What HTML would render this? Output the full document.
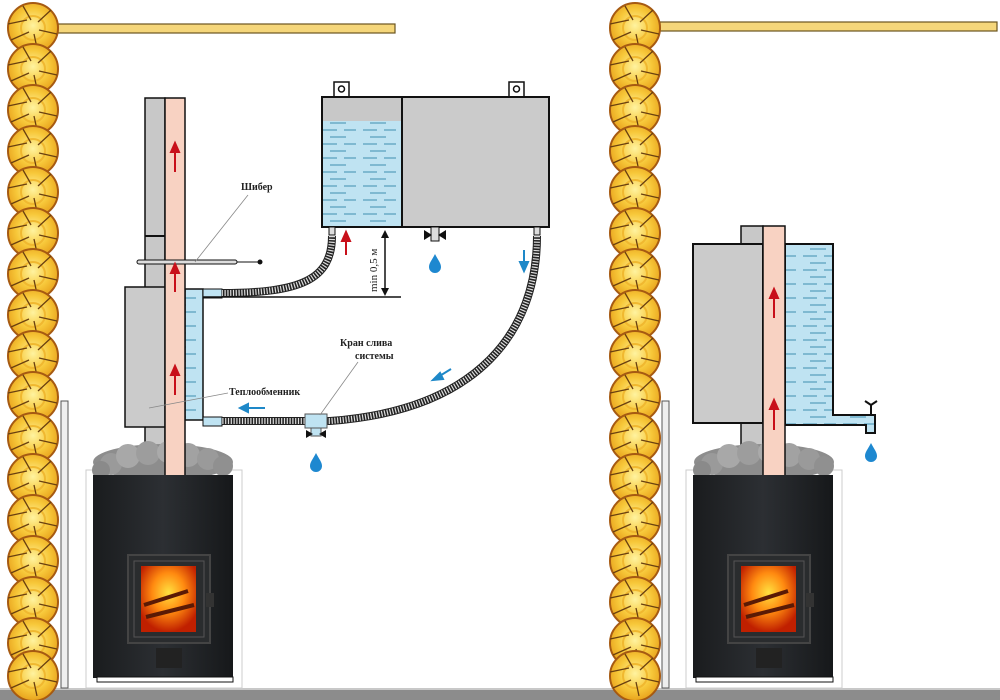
<!DOCTYPE html>
<html><head><meta charset="utf-8"><style>
html,body{margin:0;padding:0;background:#fff;width:1000px;height:700px;overflow:hidden}
svg{display:block}
text{font-family:"Liberation Serif",serif;font-weight:bold;font-size:10px;fill:#222}
</style></head><body>
<svg width="1000" height="700" viewBox="0 0 1000 700" xmlns="http://www.w3.org/2000/svg">
<defs>
 <radialGradient id="lg" cx="50%" cy="45%" r="55%"><stop offset="0" stop-color="#fff3a0"/><stop offset=".6" stop-color="#f7c83a"/><stop offset="1" stop-color="#e8a21c"/></radialGradient>
 <g id="log">
  <circle r="25" fill="url(#lg)" stroke="#a65a12" stroke-width="2"/>
  <circle r="12" fill="none" stroke="#f0b830" stroke-width="2"/>
  <path d="M-25 -4 L-6 -8 M24 6 L6 2 M-22 12 L-4 4 M18 -18 L5 -6 M-10 -22 L-2 -8 M4 20 L1 6" stroke="#6a4010" stroke-width="1.3"/>
 </g>
 <g id="logs">
  <use href="#log" y="28"/><use href="#log" y="69"/><use href="#log" y="110"/><use href="#log" y="151"/><use href="#log" y="192"/><use href="#log" y="233"/><use href="#log" y="274"/><use href="#log" y="315"/><use href="#log" y="356"/><use href="#log" y="397"/><use href="#log" y="438"/><use href="#log" y="479"/><use href="#log" y="520"/><use href="#log" y="561"/><use href="#log" y="602"/><use href="#log" y="643"/><use href="#log" y="676"/>
 </g>
 <pattern id="water" width="40" height="14" patternUnits="userSpaceOnUse">
  <rect width="40" height="14" fill="#bfe3f2"/>
  <path d="M3 4h14M24 4h12M10 11h16" stroke="#3f8fb0" stroke-width="1"/>
 </pattern>
 <radialGradient id="fire" cx="50%" cy="40%" r="60%"><stop offset="0" stop-color="#ffe040"/><stop offset=".5" stop-color="#ff8a10"/><stop offset="1" stop-color="#c02000"/></radialGradient>
 <linearGradient id="stove" x1="0" x2="1"><stop offset="0" stop-color="#1a1c1e"/><stop offset=".5" stop-color="#2c2f33"/><stop offset="1" stop-color="#16181a"/></linearGradient>
 <g id="stoneset">
  <ellipse cx="0" cy="0" rx="70" ry="18" fill="#8d8d8d"/>
  <circle cx="-52" cy="2" r="11" fill="#9a9a9a"/><circle cx="-35" cy="-6" r="12" fill="#a8a8a8"/><circle cx="-15" cy="-9" r="12" fill="#9d9d9d"/><circle cx="5" cy="-10" r="11" fill="#aaa"/><circle cx="25" cy="-7" r="12" fill="#a2a2a2"/><circle cx="45" cy="-3" r="11" fill="#9a9a9a"/><circle cx="60" cy="4" r="10" fill="#909090"/><circle cx="-62" cy="8" r="9" fill="#8a8a8a"/>
 </g>
 <g id="door">
  <rect x="0" y="0" width="82" height="88" fill="#2a2c2e" stroke="#444" stroke-width="2"/>
  <rect x="6" y="6" width="70" height="76" fill="none" stroke="#555" stroke-width="1"/>
  <rect x="13" y="11" width="55" height="66" fill="url(#fire)"/>
  <path d="M16 50 L60 36 M18 62 L66 50" stroke="#5a1a05" stroke-width="4"/>
  <rect x="78" y="38" width="8" height="14" fill="#333"/>
 </g>
 <g id="dropB"><path d="M0 -9 C3 -3 6 0 6 4 A6 6 0 0 1 -6 4 C-6 0 -3 -3 0 -9Z" fill="#1e88d0"/></g>
</defs>

<!-- floor -->
<rect x="0" y="688" width="1000" height="12" fill="#8c8c8c"/>
<rect x="0" y="688" width="1000" height="2" fill="#c8c8c8"/>

<!-- beams -->
<rect x="58" y="24" width="337" height="9" fill="#f5d67a" stroke="#6b5520" stroke-width="1.2"/>
<rect x="660" y="22" width="337" height="9" fill="#f5d67a" stroke="#6b5520" stroke-width="1.2"/>

<!-- logs -->
<use href="#logs" x="33"/>
<use href="#logs" x="635"/>

<!-- thin walls -->
<rect x="61" y="401" width="7" height="287" fill="#eee" stroke="#555" stroke-width="1"/>
<rect x="662" y="401" width="7" height="287" fill="#eee" stroke="#555" stroke-width="1"/>

<!-- ===== LEFT ===== -->
<rect x="86" y="470" width="156" height="218" fill="none" stroke="#ccc" stroke-width="1"/>
<rect x="145" y="98" width="20" height="370" fill="#c8c8c8" stroke="#111" stroke-width="1.5"/>
<line x1="145" y1="236" x2="165" y2="236" stroke="#111" stroke-width="2"/>
<rect x="125" y="287" width="40" height="140" fill="#cbcbcb" stroke="#111" stroke-width="1.5"/>
<rect x="185" y="289" width="18" height="131" fill="url(#water)" stroke="#111" stroke-width="1.5"/>
<rect x="203" y="289" width="19" height="9" fill="#bfe3f2" stroke="#111" stroke-width="1"/>
<rect x="203" y="417" width="19" height="9" fill="#bfe3f2" stroke="#111" stroke-width="1"/>
<use href="#stoneset" x="163" y="462"/>
<rect x="165" y="98" width="20" height="382" fill="#f8d2c2" stroke="#111" stroke-width="1.5"/>
<!-- damper -->
<rect x="137" y="260" width="100" height="4" rx="2" fill="#ddd" stroke="#111" stroke-width="1"/>
<line x1="237" y1="262" x2="260" y2="262" stroke="#111" stroke-width="1"/>
<circle cx="260" cy="262" r="2.5" fill="#111"/>
<!-- red arrows -->
<g stroke="#c8101a" stroke-width="2" fill="#c8101a">
 <line x1="175" y1="172" x2="175" y2="150"/><path d="M171 152 L175 143 L179 152Z"/>
 <line x1="175" y1="292" x2="175" y2="272"/><path d="M171 273 L175 264 L179 273Z"/>
 <line x1="175" y1="395" x2="175" y2="374"/><path d="M171 375 L175 366 L179 375Z"/>
 <line x1="346" y1="255" x2="346" y2="240"/><path d="M342 241 L346 232 L350 241Z"/>
</g>
<!-- hoses -->
<path d="M332 236 C332 280 300 293 222 293" fill="none" stroke="#222" stroke-width="8"/>
<path d="M332 236 C332 280 300 293 222 293" fill="none" stroke="#ddd" stroke-width="6" stroke-dasharray="1.2 1.6"/>
<path d="M537 236 C537 330 480 410 330 421 L222 421" fill="none" stroke="#222" stroke-width="8"/>
<path d="M537 236 C537 330 480 410 330 421 L222 421" fill="none" stroke="#ddd" stroke-width="6" stroke-dasharray="1.2 1.6"/>
<!-- drain valve -->
<rect x="305" y="414" width="22" height="14" fill="#bfe3f2" stroke="#555" stroke-width="1"/>
<rect x="311" y="428" width="10" height="8" fill="#bfe3f2" stroke="#555" stroke-width="1"/>
<path d="M306 430 L313 434 L306 438Z M326 430 L319 434 L326 438Z" fill="#111"/>
<use href="#dropB" x="316" y="462"/>
<!-- labels and leaders -->
<text x="241" y="190">Шибер</text>
<line x1="248" y1="195" x2="195" y2="262" stroke="#888" stroke-width="0.8"/>
<text x="229" y="395">Теплообменник</text>
<line x1="228" y1="393" x2="149" y2="408" stroke="#888" stroke-width="0.8"/>
<text x="340" y="346">Кран слива</text>
<text x="355" y="359">системы</text>
<line x1="358" y1="362" x2="320" y2="415" stroke="#888" stroke-width="0.8"/>
<!-- blue arrows -->
<g stroke="#1e88c8" stroke-width="2" fill="#1e88c8">
 <line x1="265" y1="408" x2="246" y2="408"/><path d="M248 404 L240 408 L248 412Z"/>
 <line x1="451" y1="369" x2="438" y2="377"/><path d="M440 373 L433 380 L443 379Z"/>
 <line x1="524" y1="250" x2="524" y2="264"/><path d="M520 262 L524 271 L528 262Z"/>
</g>
<!-- tank -->
<rect x="334" y="82" width="15" height="15" fill="#fff" stroke="#111" stroke-width="1.5"/><circle cx="341.5" cy="89" r="3" fill="none" stroke="#111" stroke-width="1.5"/>
<rect x="509" y="82" width="15" height="15" fill="#fff" stroke="#111" stroke-width="1.5"/><circle cx="516.5" cy="89" r="3" fill="none" stroke="#111" stroke-width="1.5"/>
<rect x="322" y="97" width="80" height="130" fill="#c8c8c8"/>
<rect x="322" y="121" width="80" height="106" fill="url(#water)"/>
<rect x="402" y="97" width="147" height="130" fill="#cbcbcb"/>
<rect x="322" y="97" width="227" height="130" fill="none" stroke="#111" stroke-width="2"/>
<line x1="402" y1="97" x2="402" y2="227" stroke="#111" stroke-width="2"/>
<rect x="329" y="227" width="6" height="8" fill="#ddd" stroke="#111" stroke-width="1"/>
<rect x="534" y="227" width="6" height="8" fill="#ddd" stroke="#111" stroke-width="1"/>
<!-- tank valve -->
<rect x="431" y="227" width="8" height="14" fill="#ddd" stroke="#111" stroke-width="1"/>
<path d="M424 230 L432 235 L424 240Z M446 230 L438 235 L446 240Z" fill="#111"/>
<use href="#dropB" x="435" y="263"/>
<!-- min 0.5 -->
<line x1="385" y1="234" x2="385" y2="292" stroke="#111" stroke-width="1.5"/>
<path d="M381 238 L385 230 L389 238Z M381 288 L385 296 L389 288Z" fill="#111"/>
<text x="0" y="0" transform="translate(377,292) rotate(-90)" style="font-weight:normal;font-size:11px">min 0,5 м</text>
<line x1="203" y1="297" x2="401" y2="297" stroke="#111" stroke-width="1.5"/>
<!-- stove -->
<rect x="93" y="475" width="140" height="203" fill="url(#stove)"/>
<rect x="97" y="677" width="136" height="5" fill="#fff" stroke="#111" stroke-width="1"/>
<use href="#door" x="128" y="555"/>
<rect x="156" y="648" width="26" height="20" fill="#222"/>

<!-- ===== RIGHT ===== -->
<rect x="686" y="470" width="156" height="218" fill="none" stroke="#ccc" stroke-width="1"/>
<rect x="741" y="226" width="22" height="250" fill="#c8c8c8" stroke="#111" stroke-width="1.5"/>
<rect x="693" y="244" width="70" height="179" fill="#cbcbcb" stroke="#111" stroke-width="2"/>
<path d="M785 244 H833 V415 H875 V433 H866 V425 H785Z" fill="url(#water)" stroke="#111" stroke-width="2"/>
<line x1="871" y1="415" x2="871" y2="405" stroke="#111" stroke-width="2"/>
<path d="M865 401 L871 405 L877 401" stroke="#111" stroke-width="2" fill="none"/>
<use href="#dropB" x="871" y="452"/>
<use href="#stoneset" x="764" y="462"/>
<rect x="763" y="226" width="22" height="254" fill="#f8d2c2" stroke="#111" stroke-width="1.5"/>
<g stroke="#c8101a" stroke-width="2" fill="#c8101a">
 <line x1="774" y1="318" x2="774" y2="297"/><path d="M770 298 L774 289 L778 298Z"/>
 <line x1="774" y1="430" x2="774" y2="408"/><path d="M770 409 L774 400 L778 409Z"/>
</g>
<rect x="693" y="475" width="140" height="203" fill="url(#stove)"/>
<rect x="696" y="677" width="137" height="5" fill="#fff" stroke="#111" stroke-width="1"/>
<use href="#door" x="728" y="555"/>
<rect x="756" y="648" width="26" height="20" fill="#222"/>
</svg>
</body></html>
